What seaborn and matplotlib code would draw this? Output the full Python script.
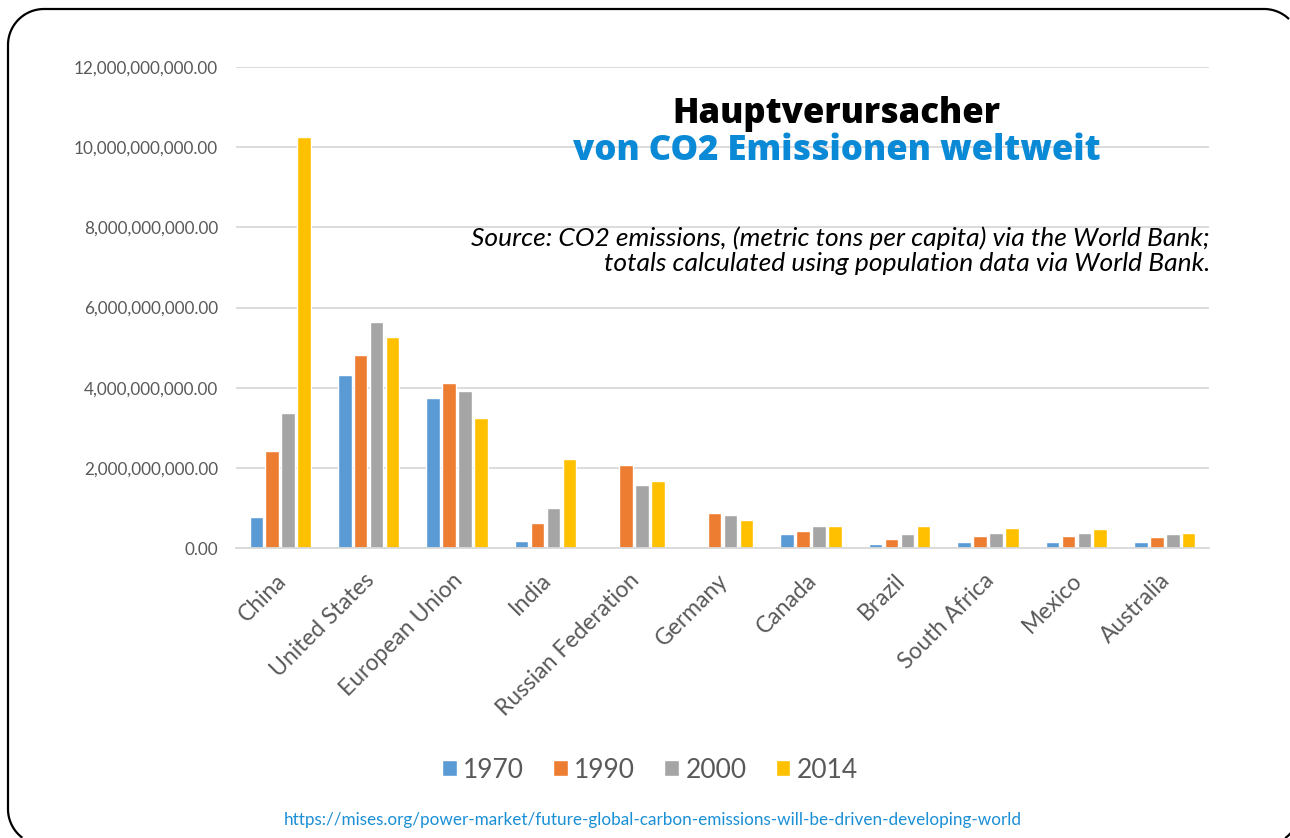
import numpy as np
import pandas as pd
import matplotlib
matplotlib.use("Agg")
import matplotlib.pyplot as plt
from matplotlib.lines import Line2D
from matplotlib.ticker import FuncFormatter
from matplotlib.transforms import ScaledTranslation
import seaborn as sns

# ── Daten (Milliarden Tonnen) ───────────────────────────────────────────────
countries = ["China", "United States", "European Union", "India",
             "Russian Federation", "Germany", "Canada", "Brazil",
             "South Africa", "Mexico", "Australia"]
years = ["1970", "1990", "2000", "2014"]
e1970 = [0.78, 4.32, 3.74, 0.17, np.nan, np.nan, 0.34, 0.09, 0.14, 0.14, 0.14]
e1990 = [2.43, 4.81, 4.11, 0.62, 2.06, 0.88, 0.43, 0.22, 0.31, 0.31, 0.27]
e2000 = [3.38, 5.63, 3.91, 0.99, 1.56, 0.83, 0.55, 0.34, 0.38, 0.38, 0.34]
e2014 = [10.26, 5.26, 3.24, 2.21, 1.68, 0.70, 0.54, 0.54, 0.50, 0.47, 0.38]
yticks = [0, 2e9, 4e9, 6e9, 8e9, 10e9, 12e9]

colors = {"1970": "#5B9BD5", "1990": "#ED7D31", "2000": "#A5A5A5", "2014": "#FFC000"}

df = pd.DataFrame({
    "country": countries * 4,
    "year": np.repeat(years, len(countries)),
    "value": np.array(e1970 + e1990 + e2000 + e2014) * 1e9,
})

sns.set_style("white")
plt.rcParams["font.family"] = ["Lato", "DejaVu Sans"]

W, H = 1290, 838
fig = plt.figure(figsize=(W / 100, H / 100), dpi=100)
ax = fig.add_axes([236 / W, 1 - 548 / H, (1209 - 236) / W, (548 - 67) / H])

sns.barplot(data=df, x="country", y="value", hue="year", palette=colors,
            errorbar=None, width=0.72, gap=0.15, saturation=1, ax=ax, legend=True)

ax.set_ylim(0, 12e9)
ax.set_yticks(yticks)
ax.yaxis.set_major_formatter(FuncFormatter(lambda v, p: f"{v:,.2f}"))
ax.yaxis.grid(True, color="#d9d9d9", lw=1.3)
ax.set_axisbelow(True)
for s in ["top", "right", "left"]:
    ax.spines[s].set_visible(False)
ax.spines["bottom"].set_color("#d9d9d9")
ax.spines["bottom"].set_linewidth(1.3)
ax.set_xlabel("")
ax.set_ylabel("")
ax.tick_params(axis="y", length=0, pad=13, labelsize=12.3, labelcolor="#595959")
ax.tick_params(axis="x", length=0, pad=12, labelsize=16.5, labelcolor="#595959")
shift = ScaledTranslation(-5 / 100, -5 / 100, fig.dpi_scale_trans)
for lbl in ax.get_xticklabels():
    lbl.set_rotation(45)
    lbl.set_ha("right")
    lbl.set_rotation_mode("anchor")
    lbl.set_transform(lbl.get_transform() + shift)

# Legende unten
handles, labels = ax.get_legend_handles_labels()
ax.legend_.remove()
fig.legend(handles, labels, loc="center", bbox_to_anchor=(650 / W, 1 - 770 / H),
           ncol=4, frameon=False, fontsize=19, labelcolor="#595959",
           handlelength=0.55, handleheight=0.55, handletextpad=0.25, columnspacing=1.1)

# Titel und Quelle
fig.text(836 / W, 1 - 114 / H, "Hauptverursacher", ha="center", va="center",
         fontsize=25, fontweight="heavy", color="black", family=["Open Sans", "DejaVu Sans"])
fig.text(837 / W, 1 - 151 / H, "von CO2 Emissionen weltweit", ha="center", va="center",
         fontsize=25, fontweight="heavy", color="#0A8AD6", family=["Open Sans", "DejaVu Sans"])
fig.text(1210 / W, 1 - 251 / H,
         "Source: CO2 emissions, (metric tons per capita) via the World Bank;\n"
         "totals calculated using population data via World Bank.",
         ha="right", va="center", fontsize=19, style="italic", color="black",
         linespacing=1.1)
fig.text(653 / W, 1 - 820 / H,
         "https://mises.org/power-market/future-global-carbon-emissions-will-be-driven-developing-world",
         ha="center", va="center", fontsize=12.3, color="#1A8FD6")

# Rahmen: abgerundetes Rechteck, rechts/unten angeschnitten (Pixelkoordinaten)
r = 36
left, top, right, bottom = 8, 9, 1300, 845

def arc(cx, cy, a0, a1):
    t = np.radians(np.linspace(a0, a1, 40))
    return cx + r * np.cos(t), cy - r * np.sin(t)

pts_x, pts_y = [], []
for cx, cy, a0, a1 in [(left + r, bottom - r, 233, 180),   # unten links
                       (left + r, top + r, 180, 90),       # oben links
                       (right - r, top + r, 90, 46)]:      # oben rechts
    xs, ys = arc(cx, cy, a0, a1)
    pts_x.extend(xs); pts_y.extend(ys)
pts_x = np.array(pts_x); pts_y = np.array(pts_y)
fig.add_artist(Line2D(pts_x / W, 1 - pts_y / H, transform=fig.transFigure,
                      color="black", lw=1.6, solid_capstyle="butt"))
xs, ys = arc(right - r, bottom - r, -30, -54)              # unten rechts
fig.add_artist(Line2D(xs / W, 1 - ys / H, transform=fig.transFigure,
                      color="black", lw=1.6, solid_capstyle="butt"))

fig.savefig("out.png", dpi=100)
